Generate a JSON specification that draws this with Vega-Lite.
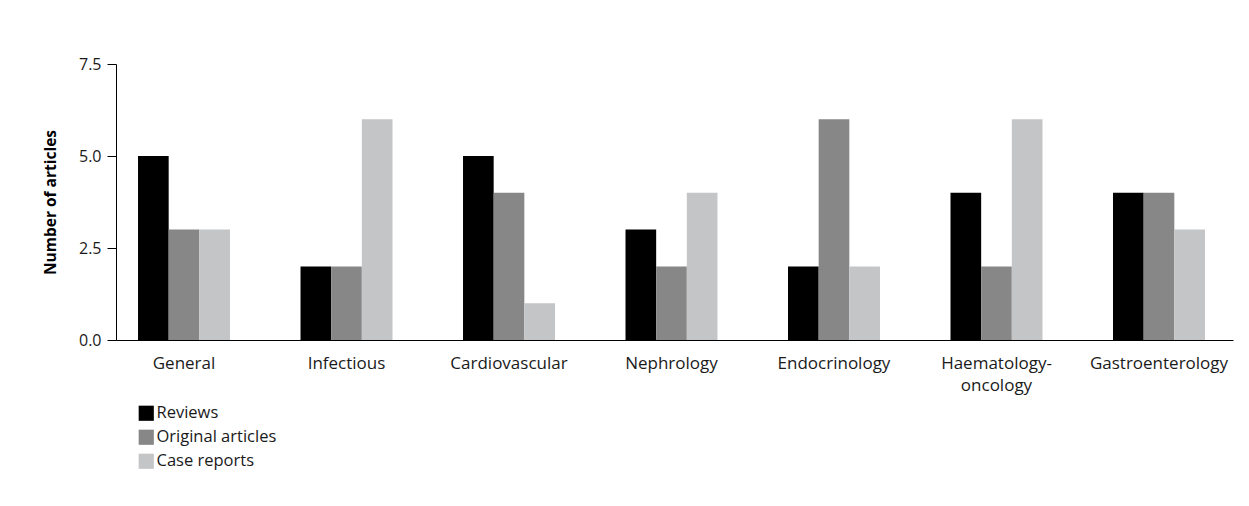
{
  "$schema": "https://vega.github.io/schema/vega-lite/v6.json",
  "autosize": "none",
  "width": 1117,
  "height": 276,
  "padding": {"left": 116, "top": 64, "right": 16, "bottom": 166},
  "background": "white",
  "config": {
    "view": {"stroke": null},
    "font": "Open Sans",
    "axis": {"domainColor": "black", "tickColor": "black", "labelColor": "#1a1a1a", "grid": false}
  },
  "data": {
    "values": [
      {"area": "General", "type": "Reviews", "n": 5},
      {"area": "General", "type": "Original articles", "n": 3},
      {"area": "General", "type": "Case reports", "n": 3},
      {"area": "Infectious", "type": "Reviews", "n": 2},
      {"area": "Infectious", "type": "Original articles", "n": 2},
      {"area": "Infectious", "type": "Case reports", "n": 6},
      {"area": "Cardiovascular", "type": "Reviews", "n": 5},
      {"area": "Cardiovascular", "type": "Original articles", "n": 4},
      {"area": "Cardiovascular", "type": "Case reports", "n": 1},
      {"area": "Nephrology", "type": "Reviews", "n": 3},
      {"area": "Nephrology", "type": "Original articles", "n": 2},
      {"area": "Nephrology", "type": "Case reports", "n": 4},
      {"area": "Endocrinology", "type": "Reviews", "n": 2},
      {"area": "Endocrinology", "type": "Original articles", "n": 6},
      {"area": "Endocrinology", "type": "Case reports", "n": 2},
      {"area": "Haematology-oncology", "type": "Reviews", "n": 4},
      {"area": "Haematology-oncology", "type": "Original articles", "n": 2},
      {"area": "Haematology-oncology", "type": "Case reports", "n": 6},
      {"area": "Gastroenterology", "type": "Reviews", "n": 4},
      {"area": "Gastroenterology", "type": "Original articles", "n": 4},
      {"area": "Gastroenterology", "type": "Case reports", "n": 3}
    ]
  },
  "mark": {"type": "bar"},
  "encoding": {
    "x": {
      "field": "area",
      "type": "nominal",
      "sort": null,
      "scale": {"paddingInner": 0.434, "paddingOuter": 0.154, "align": 0.44},
      "axis": {
        "title": null,
        "labelAngle": 0,
        "labelFontSize": 17,
        "labelPadding": 15,
        "ticks": false,
        "labelLineHeight": 22,
        "labelExpr": "datum.value == 'Haematology-oncology' ? ['Haematology-', 'oncology'] : datum.value"
      }
    },
    "xOffset": {"field": "type", "type": "nominal", "sort": ["Reviews", "Original articles", "Case reports"]},
    "y": {
      "field": "n",
      "type": "quantitative",
      "scale": {"domain": [0, 7.5], "nice": false},
      "axis": {
        "title": "Number of articles",
        "titleFontSize": 15.5,
        "titleFontWeight": "bold",
        "titleColor": "black",
        "titlePadding": 20,
        "values": [0, 2.5, 5, 7.5],
        "format": ".1f",
        "labelFontSize": 16,
        "tickSize": 9,
        "labelPadding": 6
      }
    },
    "color": {
      "field": "type",
      "type": "nominal",
      "sort": ["Reviews", "Original articles", "Case reports"],
      "scale": {"domain": ["Reviews", "Original articles", "Case reports"], "range": ["#000000", "#878787", "#c4c5c7"]},
      "legend": {
        "title": null,
        "orient": "none",
        "legendX": 22,
        "legendY": 341,
        "symbolType": "square",
        "symbolSize": 230,
        "symbolStrokeWidth": 0,
        "symbolOpacity": 1,
        "labelFontSize": 16.5,
        "labelColor": "#1a1a1a",
        "labelOffset": 2,
        "rowPadding": 7
      }
    }
  }
}
